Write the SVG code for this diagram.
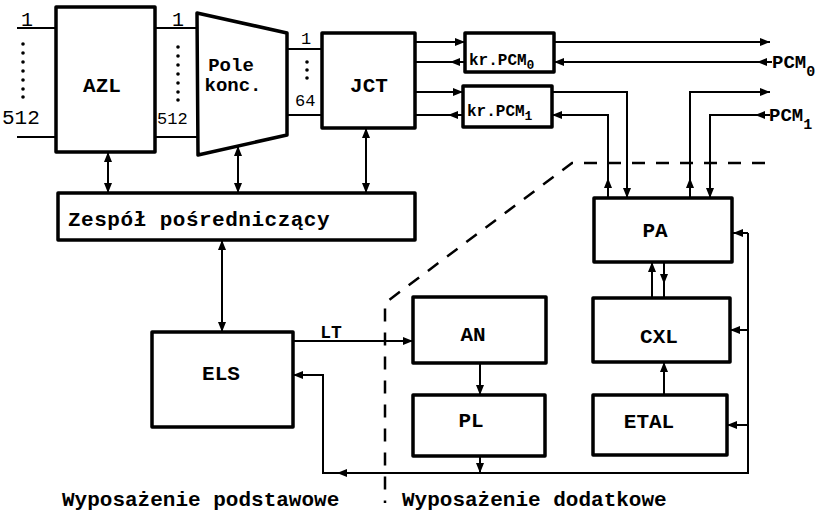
<svg xmlns="http://www.w3.org/2000/svg" width="829" height="517" viewBox="0 0 829 517">
<defs>
<marker id="ah" viewBox="0 0 10 8" refX="10" refY="4" markerWidth="10" markerHeight="8" orient="auto-start-reverse" markerUnits="userSpaceOnUse"><path d="M0,0 L10,4 L0,8 z" fill="#000"/></marker>
<style>
.box{fill:#fff;stroke:#000;stroke-width:3.5;stroke-linejoin:round}
.ln{fill:none;stroke:#000;stroke-width:2}
.arr{marker-end:url(#ah)}
.dbl{marker-start:url(#ah);marker-end:url(#ah)}
.dash{fill:none;stroke:#000;stroke-width:2.5;stroke-dasharray:13 11}
text{font-family:"Liberation Mono","DejaVu Sans Mono",monospace;font-weight:bold;fill:#000}
.lbl{font-size:21px;text-anchor:middle}
.num{font-size:20px;font-weight:normal}
.dot{fill:#000}
</style>
</defs>
<rect width="829" height="517" fill="#fff"/>

<g id="connectors">
<path class="ln" d="M17,28 H56 M17,137 H56 M155,28 H197 M155,137 H197 M287,49 H322 M287,115 H322"/>
<path class="ln dbl" d="M108,152 V193"/>
<path class="ln dbl" d="M238,146 V193"/>
<path class="ln dbl" d="M366,128 V193"/>
<path class="ln dbl" d="M222,240 V332"/>
<path class="ln arr" d="M415,42 H465"/>
<path class="ln arr" d="M465,62 H450"/>
<path class="ln" d="M450,62 H415"/>
<path class="ln arr" d="M415,92 H463"/>
<path class="ln arr" d="M463,115 H448"/>
<path class="ln" d="M448,115 H415"/>
<path class="ln arr" d="M554,42 H770"/>
<path class="ln arr" d="M772,62 H757"/>
<path class="ln arr" d="M757,62 H554"/>
<path class="ln arr" d="M552,92 H627 V198"/>
<path class="ln arr" d="M608,198 V178"/>
<path class="ln arr" d="M608,178 V115 H552"/>
<path class="ln arr" d="M690,198 V178"/>
<path class="ln arr" d="M690,178 V92 H770"/>
<path class="ln arr" d="M770,115 H755"/>
<path class="ln arr" d="M755,115 H710 V198"/>
<path class="ln arr" d="M293,341 H413"/>
<path class="ln arr" d="M480,363 V395"/>
<path class="ln arr" d="M480,456 V473"/>
<path class="ln" d="M748,233 V473 H350"/>
<path class="ln arr" d="M350,473 H337"/>
<path class="ln arr" d="M337,473 H323 V375 H293"/>
<path class="ln arr" d="M748,233 H733"/>
<path class="ln arr" d="M748,330 H730"/>
<path class="ln arr" d="M748,425 H727"/>
<path class="ln arr" d="M652,298 V262"/>
<path class="ln arr" d="M664,262 V284"/>
<path class="ln" d="M664,284 V298"/>
<path class="ln arr" d="M664,395 V362"/>
</g>

<g id="boundary">
<path class="dash" d="M765,163 H572 L385,303 V503"/>
</g>

<g id="inputs">
<text class="num" x="21" y="26">1</text>
<g class="dot"><circle cx="23" cy="44" r="1.8"/><circle cx="23" cy="53" r="1.8"/><circle cx="23" cy="62" r="1.8"/><circle cx="23" cy="71" r="1.8"/><circle cx="23" cy="80" r="1.8"/><circle cx="23" cy="89" r="1.8"/><circle cx="23" cy="97" r="1.8"/></g>
<text class="num" x="2" y="124" style="font-size:21px">512</text>
<text class="num" x="172" y="26">1</text>
<g class="dot"><circle cx="178" cy="47" r="1.8"/><circle cx="178" cy="56" r="1.8"/><circle cx="178" cy="65" r="1.8"/><circle cx="178" cy="74" r="1.8"/><circle cx="178" cy="83" r="1.8"/><circle cx="178" cy="92" r="1.8"/><circle cx="178" cy="100" r="1.8"/></g>
<text class="num" x="157" y="124" style="font-size:17px">512</text>
<text class="num" x="301" y="44" style="font-size:17px">1</text>
<g class="dot"><circle cx="307" cy="62" r="1.8"/><circle cx="307" cy="70" r="1.8"/><circle cx="307" cy="78" r="1.8"/></g>
<text class="num" x="295" y="106" style="font-size:17px">64</text>
</g>

<g id="AZL"><rect class="box" x="56" y="7" width="99" height="145"/><text class="lbl" x="102" y="92">AZL</text></g>
<g id="Pole"><polygon class="box" points="197,13 287,33 287,135 198,155"/><text class="lbl" x="231" y="71" style="font-size:19px">Pole</text><text class="lbl" x="233" y="91" style="font-size:19px">konc.</text></g>
<g id="JCT"><rect class="box" x="322" y="33" width="93" height="95"/><text class="lbl" x="369" y="92">JCT</text></g>
<g id="krPCM0"><rect class="box" x="465" y="33" width="89" height="39"/><text x="469" y="65" style="font-size:16px">kr.PCM<tspan dy="4" style="font-size:13px">0</tspan></text></g>
<g id="krPCM1"><rect class="box" x="463" y="86" width="89" height="41"/><text x="467" y="116" style="font-size:16px">kr.PCM<tspan dy="4" style="font-size:13px">1</tspan></text></g>
<g id="PCM0"><text x="772" y="68" style="font-size:19px">PCM<tspan dy="8" style="font-size:15px">0</tspan></text></g>
<g id="PCM1"><text x="769" y="121" style="font-size:19px">PCM<tspan dy="8" style="font-size:15px">1</tspan></text></g>
<g id="Zespol"><rect class="box" x="58" y="193" width="357" height="47"/><text x="68" y="226" style="font-size:21px;letter-spacing:0.5px">Zespół pośredniczący</text></g>
<g id="ELS"><rect class="box" x="152" y="332" width="141" height="95"/><text class="lbl" x="221" y="380">ELS</text></g>
<text x="331" y="338" class="lbl" style="font-size:18px">LT</text>
<g id="AN"><rect class="box" x="413" y="297" width="133" height="66"/><text class="lbl" x="473" y="341">AN</text></g>
<g id="PL"><rect class="box" x="413" y="395" width="132" height="61"/><text class="lbl" x="471" y="427">PL</text></g>
<g id="PA"><rect class="box" x="594" y="198" width="138" height="64"/><text class="lbl" x="655" y="237">PA</text></g>
<g id="CXL"><rect class="box" x="593" y="298" width="137" height="64"/><text class="lbl" x="659" y="343">CXL</text></g>
<g id="ETAL"><rect class="box" x="593" y="395" width="134" height="60"/><text class="lbl" x="649" y="428">ETAL</text></g>

<text x="62" y="506" style="font-size:21px">Wyposażenie podstawowe</text>
<text x="402" y="506" style="font-size:21px">Wyposażenie dodatkowe</text>
</svg>
